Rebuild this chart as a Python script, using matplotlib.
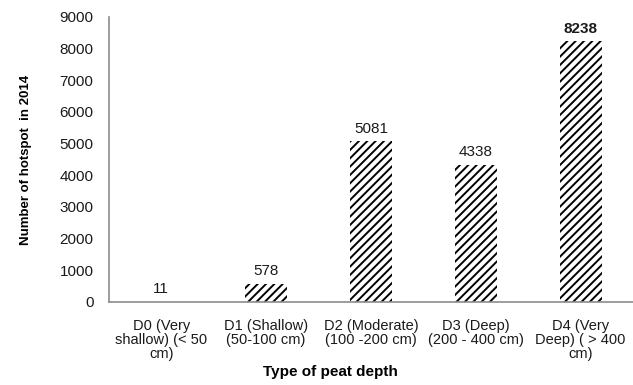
import numpy as np
import matplotlib.pyplot as plt

plt.rcParams['font.family'] = ['Liberation Sans', 'DejaVu Sans']
plt.rcParams['hatch.linewidth'] = 1.4

# datos
categorias = ['D0 (Very\nshallow) (< 50\ncm)', 'D1 (Shallow)\n(50-100 cm)',
              'D2 (Moderate)\n(100 -200 cm)', 'D3 (Deep)\n(200 - 400 cm)',
              'D4 (Very\nDeep) ( > 400\ncm)']
hotspots = [11, 578, 5081, 4338, 8238]
yticks = [0, 1000, 2000, 3000, 4000, 5000, 6000, 7000, 8000, 9000]

fig = plt.figure(figsize=(6.33, 3.85), dpi=100)
ax = fig.add_axes([0.172, 0.2156, 0.828, 0.7404])

x = np.arange(len(hotspots))
ax.bar(x, hotspots, width=0.4, color='white', edgecolor='black',
       hatch='////', linewidth=0)

for i, v in enumerate(hotspots):
    peso = 'bold' if i == len(hotspots) - 1 else 'normal'
    ax.annotate(str(v), (i, v), xytext=(0, 4), textcoords='offset points',
                ha='center', va='bottom', fontsize=11, fontweight=peso, color='#1a1a1a')

ax.set_xlim(-0.5, 4.5)
ax.set_ylim(0, 9000)
ax.set_yticks(yticks)
ax.set_xticks(x)
ax.set_xticklabels(categorias, fontsize=10.5, linespacing=1.0)
ax.tick_params(axis='y', length=0, labelsize=11, colors='#1a1a1a', pad=11)
ax.tick_params(axis='x', length=0, colors='#1a1a1a', pad=12)

for lado in ['top', 'right']:
    ax.spines[lado].set_visible(False)
for lado in ['left', 'bottom']:
    ax.spines[lado].set_color('#8c8c8c')
    ax.spines[lado].set_linewidth(1.2)

ax.set_ylabel('Number of hotspot  in 2014', fontsize=9.5, fontweight='bold', labelpad=20)
fig.text(330 / 633, 1 - 372 / 385, 'Type of peat depth', ha='center', va='center',
         fontsize=11, fontweight='bold')

plt.savefig('out.png', dpi=100)
